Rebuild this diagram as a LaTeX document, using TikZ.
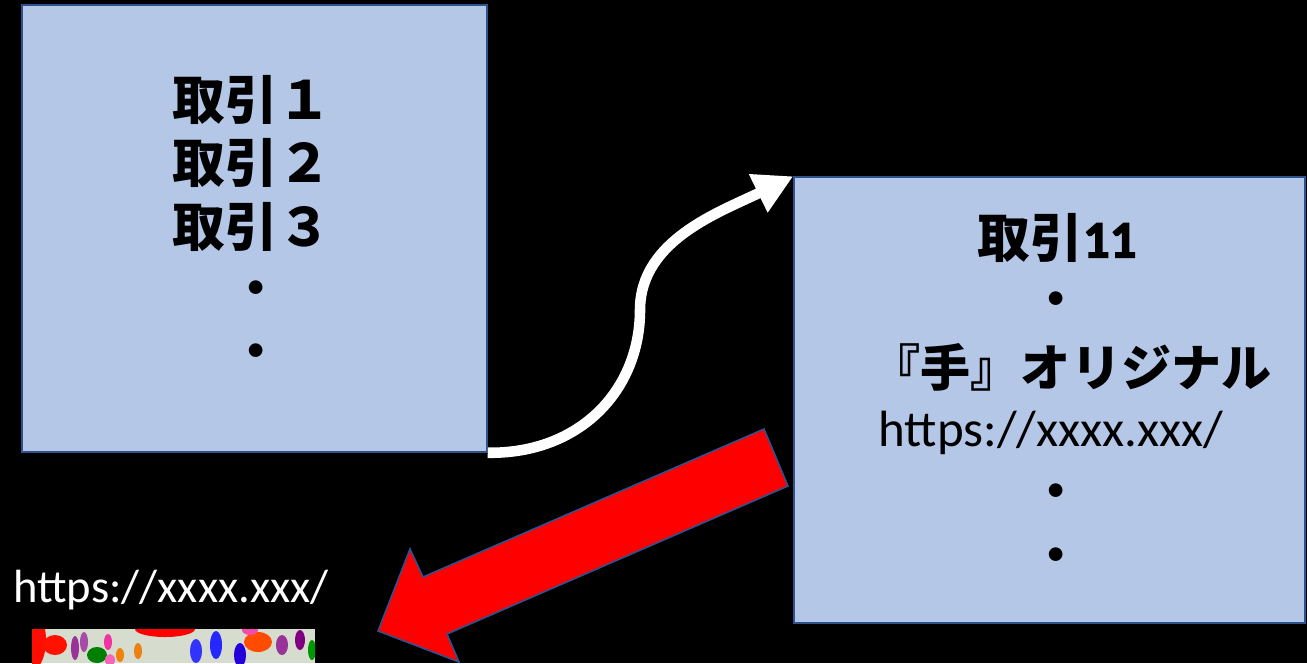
\documentclass[tikz,border=0pt]{standalone}
\usepackage{fontspec}
\setmainfont{Carlito}
\newfontfamily\jp{Noto Sans CJK JP}
\newfontfamily\numbold{Carlito}[FakeBold=2.5]
\usetikzlibrary{arrows.meta}
\definecolor{boxfill}{RGB}{180,199,231}
\definecolor{boxline}{RGB}{47,82,143}
\definecolor{photobg}{RGB}{214,220,206}

\begin{document}
\begin{tikzpicture}[x=0.02cm, y=-0.02cm,
  box/.style={draw=boxline, fill=boxfill, line width=0.9pt, inner sep=0pt},
  jp/.style={font=\jp\bfseries\fontsize{30}{36}\selectfont, inner sep=0pt},
  txt/.style={font=\fontsize{29}{34}\selectfont, inner sep=0pt},
  dot/.style={font=\fontsize{22}{26}\selectfont, inner sep=0pt},
  flow/.style={white, line width=6pt, -{Triangle[width=0.8cm, length=0.78cm]}}]
  \fill[black] (0,0) rectangle (1307,663);

  \node[box, minimum width=9.3cm, minimum height=8.94cm] (lbox) at (254.5,228.5) {};
  \node[box, minimum width=10.22cm, minimum height=8.92cm] (rbox) at (1049.5,400) {};

  \node[jp] (l1) at (252,100) {取引１};
  \node[jp] (l2) at (252,163) {取引２};
  \node[jp] (l3) at (252,227) {取引３};
  \node[dot] (ld1) at (256,290) {•};
  \node[dot] (ld2) at (256,353) {•};

  \node[jp] (r1) at (1057,238) {取引{\numbold 11}};
  \node[dot] (rd1) at (1056,301) {•};
  \node[jp, font=\jp\bfseries\fontsize{28.5}{34}\selectfont] (r2) at (1071,367) {『手』オリジナル};
  \node[txt] (rurl) at (1051,433) {https://xxxx.xxx/};
  \node[dot] (rd2) at (1056,493) {•};
  \node[dot] (rd3) at (1056,557) {•};

  \coordinate (bend) at (640,310);
  \draw[flow] (lbox.south east) .. controls (580,454) and (640,390) .. (bend)
    .. controls (640,240) and (720,212) .. (rbox.north west);

  \draw[boxline, fill=red, line width=0.9pt, line join=miter]
    (764,429) -- (788,486) -- (447,634) -- (459,662) -- (378,631)
    -- (410,549) -- (423,577) -- cycle;

  \node[txt, font=\fontsize{26.5}{32}\selectfont, white] (burl) at (171,590) {https://xxxx.xxx/};

  % photo of hand prints
  \begin{scope}
    \clip (32,629) rectangle (315,663);
    \fill[photobg] (32,629) rectangle (315,663);
    \fill[red!90!orange] (32,640) ellipse (14 and 30);
    \fill[red!85!orange] (55,645) ellipse (12 and 10);
    \fill[red] (165,629) ellipse (30 and 8);
    \fill[violet!80] (75,648) ellipse (4 and 12);
    \fill[violet!70] (84,642) ellipse (4 and 10);
    \fill[green!50!black] (97,655) ellipse (10 and 8);
    \fill[magenta!80] (108,642) ellipse (4 and 8);
    \fill[magenta!60] (110,660) ellipse (5 and 6);
    \fill[orange!80!brown] (120,655) ellipse (4 and 7);
    \fill[orange!70!brown] (138,651) ellipse (4 and 8);
    \fill[blue!80] (196,651) ellipse (6 and 12);
    \fill[blue!85] (216,645) ellipse (6 and 14);
    \fill[blue!70!violet] (240,655) ellipse (6 and 12);
    \fill[orange!60!red] (258,642) ellipse (14 and 10);
    \fill[magenta!70] (250,630) ellipse (8 and 5);
    \fill[violet!80] (282,645) ellipse (6 and 10);
    \fill[violet] (300,640) ellipse (5 and 10);
    \fill[green!60!black] (312,650) ellipse (4 and 10);
  \end{scope}
\end{tikzpicture}
\end{document}
